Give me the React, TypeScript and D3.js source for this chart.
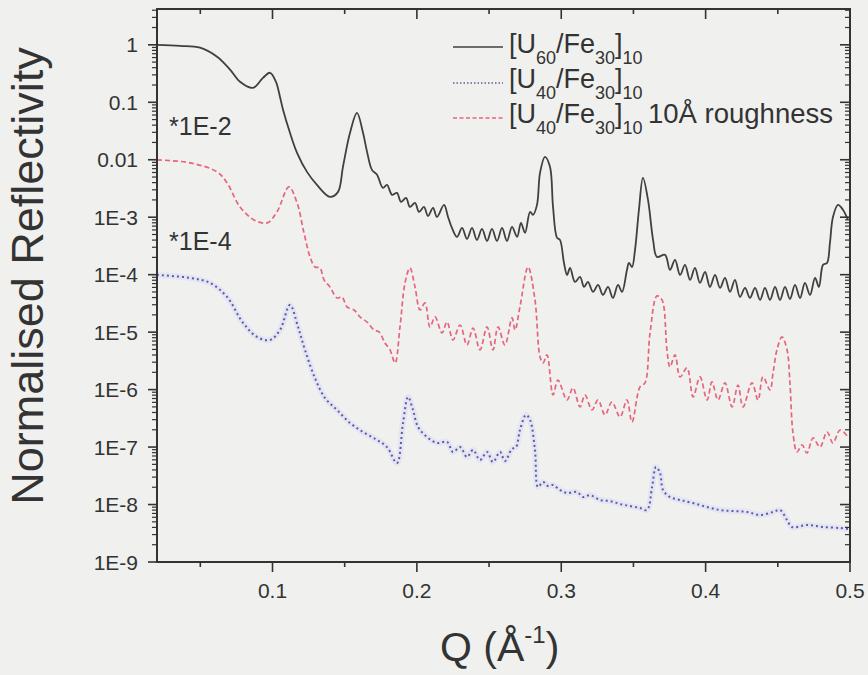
import React from "react";
import * as d3 from "d3";

const W = 868;
const H = 675;
const plot = { left: 157, right: 850, top: 9, bottom: 562 };

// [Q (1/Å), normalised reflectivity]
const u60Fe30: [number, number][] = [
  [0.02, 1.0], [0.0359, 0.96], [0.0498, 0.89], [0.0616, 0.62], [0.0706, 0.37],
  [0.0775, 0.227], [0.0865, 0.178], [0.0934, 0.266], [0.0983, 0.326], [0.1024, 0.227],
  [0.1052, 0.124], [0.1073, 0.074], [0.1121, 0.0294], [0.117, 0.0132], [0.1239, 0.00615],
  [0.1308, 0.00365], [0.1398, 0.00226], [0.1454, 0.00276], [0.1488, 0.00752], [0.1537, 0.0294],
  [0.1585, 0.0655], [0.1627, 0.0294], [0.1655, 0.0137], [0.1689, 0.00666], [0.1724, 0.00546],
  [0.1765, 0.00324], [0.1793, 0.00365], [0.1828, 0.00245], [0.1862, 0.00265], [0.189, 0.00185],
  [0.1925, 0.00217], [0.1952, 0.00151], [0.1987, 0.00178], [0.2015, 0.00124], [0.2049, 0.00151],
  [0.2077, 0.00105], [0.2112, 0.00145], [0.2139, 0.00101], [0.2188, 0.00164], [0.2216, 0.00101],
  [0.2243, 6.5e-4], [0.2278, 4.54e-4], [0.2313, 6.5e-4], [0.2347, 4.19e-4], [0.2382, 6.5e-4],
  [0.2416, 4.03e-4], [0.2451, 6.26e-4], [0.2486, 3.87e-4], [0.252, 6.26e-4], [0.2555, 3.87e-4],
  [0.259, 6.5e-4], [0.2624, 3.87e-4], [0.2659, 6.79e-4], [0.2694, 4.54e-4], [0.2721, 7.96e-4],
  [0.2749, 5.33e-4], [0.2784, 0.00124], [0.2804, 0.0011], [0.2832, 0.00164], [0.2853, 0.00591],
  [0.2887, 0.0112], [0.2922, 0.00752], [0.2943, 0.00151], [0.2971, 4.37e-4], [0.2991, 4.03e-4],
  [0.3019, 1.6e-4], [0.304, 9.9e-5], [0.3061, 1.31e-4], [0.3095, 7.48e-5], [0.313, 9.14e-5],
  [0.3158, 6.12e-5], [0.3185, 7.48e-5], [0.322, 5.01e-5], [0.3255, 6.63e-5], [0.3289, 4.44e-5],
  [0.3324, 6.12e-5], [0.3358, 3.94e-5], [0.3393, 6.63e-5], [0.3421, 5.01e-5], [0.3455, 1.21e-4],
  [0.3469, 1.6e-4], [0.349, 1.36e-4], [0.3511, 2.7e-4], [0.3538, 0.00134], [0.3566, 0.00484],
  [0.3601, 0.002], [0.3636, 4.03e-4], [0.3663, 2.04e-4], [0.3719, 2.21e-4], [0.3753, 1.21e-4],
  [0.3788, 1.81e-4], [0.3823, 9.9e-5], [0.3857, 1.48e-4], [0.3892, 8.11e-5], [0.3926, 1.31e-4],
  [0.3961, 7.19e-5], [0.3996, 1.12e-4], [0.403, 6.12e-5], [0.4065, 9.9e-5], [0.41, 5.88e-5],
  [0.4134, 8.78e-5], [0.4169, 5.01e-5], [0.4203, 8.11e-5], [0.4238, 4.1e-5], [0.4273, 5.88e-5],
  [0.4307, 3.94e-5], [0.4342, 5.88e-5], [0.4377, 3.64e-5], [0.4411, 5.88e-5], [0.4446, 3.64e-5],
  [0.4481, 6.12e-5], [0.4515, 3.64e-5], [0.455, 6.12e-5], [0.4584, 3.78e-5], [0.4619, 6.63e-5],
  [0.4654, 3.94e-5], [0.4688, 7.19e-5], [0.4723, 4.44e-5], [0.4758, 8.78e-5], [0.4785, 6.12e-5],
  [0.4813, 1.48e-4], [0.4841, 1.6e-4], [0.4861, 3.57e-4], [0.4882, 0.00101], [0.4917, 0.00164],
  [0.4952, 0.00134], [0.4986, 8.98e-4],
];

// multiplied by 1E-4 in the figure
const u40Fe30: [number, number][] = [
  [0.02, 9.9e-5], [0.0429, 8.78e-5], [0.0567, 7.19e-5], [0.0685, 4.1e-5], [0.0796, 1.45e-5],
  [0.0893, 8.25e-6], [0.0983, 7.31e-6], [0.1052, 1.09e-5], [0.1121, 2.97e-5], [0.1177, 1.23e-5],
  [0.1225, 4.9e-6], [0.1294, 1.59e-6], [0.1364, 7.15e-7], [0.1447, 4.42e-7], [0.1537, 2.63e-7],
  [0.1627, 1.83e-7], [0.1724, 1.33e-7], [0.1793, 1.0e-7], [0.1862, 5.28e-8], [0.1904, 2.63e-7],
  [0.1939, 7.44e-7], [0.1973, 4.42e-7], [0.2008, 2.24e-7], [0.207, 1.5e-7], [0.2139, 1.18e-7],
  [0.2209, 1.23e-7], [0.225, 8.21e-8], [0.2299, 1.0e-7], [0.2347, 6.72e-8], [0.2389, 8.9e-8],
  [0.2437, 5.96e-8], [0.2486, 8.21e-8], [0.2527, 5.5e-8], [0.2576, 8.21e-8], [0.261, 5.72e-8],
  [0.2659, 9.26e-8], [0.2687, 1.0e-7], [0.2714, 1.98e-7], [0.2756, 3.62e-7], [0.2784, 2.96e-7],
  [0.2818, 8.9e-8], [0.2839, 2.02e-8], [0.2874, 2.47e-8], [0.2908, 2.1e-8], [0.2943, 2.19e-8],
  [0.2991, 1.79e-8], [0.304, 1.59e-8], [0.3109, 1.65e-8], [0.3151, 1.35e-8], [0.3199, 1.46e-8],
  [0.3268, 1.2e-8], [0.3338, 1.15e-8], [0.3407, 1.02e-8], [0.3476, 9.42e-9], [0.3545, 8.7e-9],
  [0.3594, 8.03e-9], [0.3629, 2.02e-8], [0.3656, 4.5e-8], [0.3684, 3.54e-8], [0.3705, 1.79e-8],
  [0.3753, 1.35e-8], [0.3823, 1.2e-8], [0.3913, 1.06e-8], [0.401, 9.05e-9], [0.41, 8.03e-9],
  [0.419, 7.71e-9], [0.4287, 7.41e-9], [0.4377, 6.57e-9], [0.4467, 7.41e-9], [0.4515, 8.03e-9],
  [0.4564, 5.38e-9], [0.4598, 4.06e-9], [0.4702, 4.4e-9], [0.4813, 4.06e-9], [0.4931, 3.9e-9],
  [0.4986, 3.75e-9],
];

// multiplied by 1E-2 in the figure
const u40Fe30Rough: [number, number][] = [
  [0.02, 9.95e-3], [0.0429, 8.83e-3], [0.0616, 6.15e-3], [0.0685, 3.96e-3], [0.0775, 1.51e-3],
  [0.0872, 8.98e-4], [0.0962, 7.96e-4], [0.1031, 1.24e-3], [0.1114, 3.37e-3], [0.117, 1.78e-3],
  [0.1218, 5.33e-4], [0.126, 2.04e-4], [0.1294, 1.36e-4], [0.1329, 1.31e-4], [0.1357, 8.11e-5],
  [0.1398, 6.12e-5], [0.1447, 3.94e-5], [0.1481, 4.1e-5], [0.1516, 2.75e-5], [0.1565, 2.43e-5],
  [0.1606, 1.84e-5], [0.1655, 1.5e-5], [0.1703, 1.09e-5], [0.1738, 1.01e-5], [0.1779, 6.49e-6],
  [0.1814, 4.9e-6], [0.1849, 2.91e-6], [0.1883, 1.23e-5], [0.1918, 7.19e-5], [0.1952, 1.31e-4],
  [0.1987, 6.12e-5], [0.2022, 2.43e-5], [0.2056, 3.22e-5], [0.2091, 1.23e-5], [0.2126, 1.84e-5],
  [0.2174, 9.68e-6], [0.2209, 1.5e-5], [0.225, 7.31e-6], [0.2299, 1.33e-5], [0.2347, 5.99e-6],
  [0.2389, 1.18e-5], [0.2437, 4.9e-6], [0.2486, 1.23e-5], [0.2527, 4.9e-6], [0.2562, 1.23e-5],
  [0.261, 5.99e-6], [0.2659, 1.77e-5], [0.268, 1.09e-5], [0.2714, 2.75e-5], [0.277, 1.36e-4],
  [0.2818, 3.64e-5], [0.2853, 3.7e-6], [0.2874, 2.91e-6], [0.2901, 4.01e-6], [0.2943, 8.07e-7],
  [0.2977, 1.47e-6], [0.304, 6.6e-7], [0.3081, 1.07e-6], [0.313, 4.99e-7], [0.3164, 8.07e-7],
  [0.3213, 4.42e-7], [0.3255, 6.6e-7], [0.3303, 3.62e-7], [0.3351, 6.09e-7], [0.3407, 3.34e-7],
  [0.3455, 6.6e-7], [0.349, 2.73e-7], [0.3545, 1.11e-6], [0.358, 1.31e-6], [0.3615, 9.68e-6],
  [0.3663, 4.27e-5], [0.3698, 3.64e-5], [0.3732, 4.9e-6], [0.3753, 2.48e-6], [0.3788, 4.01e-6],
  [0.3823, 1.66e-6], [0.3871, 2.38e-6], [0.3913, 7.44e-7], [0.3961, 1.66e-6], [0.401, 6.6e-7],
  [0.4044, 1.36e-6], [0.4086, 6.6e-7], [0.4134, 1.31e-6], [0.4183, 4.99e-7], [0.4224, 1.2e-6],
  [0.4259, 4.99e-7], [0.4321, 1.31e-6], [0.4363, 6.6e-7], [0.4397, 1.66e-6], [0.4446, 9.86e-7],
  [0.4467, 1.95e-6], [0.4494, 4.9e-6], [0.4529, 8.25e-6], [0.4564, 4.9e-6], [0.4584, 1.31e-6],
  [0.4605, 1.76e-7], [0.4633, 8.21e-8], [0.4668, 1.09e-7], [0.4702, 7.89e-8], [0.4744, 1.44e-7],
  [0.4792, 1.0e-7], [0.4841, 1.83e-7], [0.4882, 1.18e-7], [0.4931, 1.98e-7], [0.4986, 1.5e-7],
];

const xTicks = [0.1, 0.2, 0.3, 0.4, 0.5];
const xMinorTicks = [0.05, 0.15, 0.25, 0.35, 0.45];
const yTicks = [1, 0.1, 0.01, 1e-3, 1e-4, 1e-5, 1e-6, 1e-7, 1e-8, 1e-9];
const yTickLabels = ["1", "0.1", "0.01", "1E-3", "1E-4", "1E-5", "1E-6", "1E-7", "1E-8", "1E-9"];

const x = d3.scaleLinear().domain([0.02, 0.5]).range([plot.left, plot.right]);
const y = d3.scaleLog().domain([1e-9, 4.2]).range([plot.bottom, plot.top]);

const yMinorTicks: number[] = [];
yTicks.forEach((d) => {
  for (let k = 2; k < 10; k++) if (d * k < 4.2) yMinorTicks.push(d * k);
});

const line = d3
  .line<[number, number]>()
  .x((d) => x(d[0]))
  .y((d) => y(d[1]))
  .curve(d3.curveCatmullRom.alpha(0.5));

const ink = "#333";
const font = "Arial, 'Liberation Sans', Helvetica, sans-serif";

const Formula = ({ a, x0, y0 }: { a: string; x0: number; y0: number }) => (
  <text x={x0} y={y0} fontSize={27} fill={ink} fontFamily={font}>
    <tspan>[U</tspan>
    <tspan fontSize={18} dy={11}>{a}</tspan>
    <tspan dy={-11}>/Fe</tspan>
    <tspan fontSize={18} dy={11}>30</tspan>
    <tspan dy={-11}>]</tspan>
    <tspan fontSize={18} dy={11}>10</tspan>
  </text>
);

export default function App() {
  return (
    <svg
      width={W}
      height={H}
      style={{ position: "absolute", left: 0, top: 0, display: "block" }}
      fontFamily={font}
    >
      <rect width={W} height={H} fill="#f0f0ee" />
      <defs>
        <clipPath id="plotArea">
          <rect x={plot.left} y={plot.top} width={plot.right - plot.left} height={plot.bottom - plot.top} />
        </clipPath>
      </defs>

      {/* data */}
      <g clipPath="url(#plotArea)" fill="none">
        <path d={line(u40Fe30) || ""} stroke="#e4e4f4" strokeWidth={6} />
        <path d={line(u40Fe30) || ""} stroke="#5c5f9e" strokeWidth={2} strokeDasharray="2 3" />
        <path d={line(u40Fe30Rough) || ""} stroke="#e5667c" strokeWidth={1.7} strokeDasharray="5 3" />
        <path d={line(u60Fe30) || ""} stroke="#404040" strokeWidth={1.8} />
      </g>

      {/* frame */}
      <rect
        x={plot.left}
        y={plot.top}
        width={plot.right - plot.left}
        height={plot.bottom - plot.top}
        fill="none"
        stroke={ink}
        strokeWidth={2}
      />

      {/* ticks */}
      <g stroke={ink} strokeWidth={1.6}>
        {yTicks.map((d) => (
          <g key={d}>
            <line x1={plot.left - 9} x2={plot.left} y1={y(d)} y2={y(d)} />
            <line x1={plot.right - 10} x2={plot.right} y1={y(d)} y2={y(d)} />
          </g>
        ))}
        {yMinorTicks.map((d) => (
          <g key={d}>
            <line x1={plot.left - 5} x2={plot.left} y1={y(d)} y2={y(d)} strokeWidth={1.2} />
            <line x1={plot.right - 5} x2={plot.right} y1={y(d)} y2={y(d)} strokeWidth={1.2} />
          </g>
        ))}
        {xTicks.map((d) => (
          <g key={d}>
            <line x1={x(d)} x2={x(d)} y1={plot.bottom} y2={plot.bottom + 10} />
            <line x1={x(d)} x2={x(d)} y1={plot.top} y2={plot.top + 10} />
          </g>
        ))}
        {xMinorTicks.map((d) => (
          <g key={d}>
            <line x1={x(d)} x2={x(d)} y1={plot.bottom} y2={plot.bottom + 5} />
            <line x1={x(d)} x2={x(d)} y1={plot.top} y2={plot.top + 5} />
          </g>
        ))}
      </g>

      {/* tick labels */}
      <g fill={ink} fontSize={21}>
        {yTicks.map((d, i) => (
          <text key={d} x={plot.left - 19} y={y(d) + 7.5} textAnchor="end">
            {yTickLabels[i]}
          </text>
        ))}
        {xTicks.map((d) => (
          <text key={d} x={x(d)} y={598} textAnchor="middle">
            {d}
          </text>
        ))}
      </g>

      {/* axis titles */}
      <text
        transform="translate(43, 276) rotate(-90)"
        textAnchor="middle"
        fontSize={45}
        fill={ink}
      >
        Normalised Reflectivity
      </text>
      <text x={440} y={661} fontSize={41} fill={ink}>
        <tspan>Q (Å</tspan>
        <tspan fontSize={24} dy={-18}>-1</tspan>
        <tspan dy={18}>)</tspan>
      </text>

      {/* offsets */}
      <text x={169} y={135} fontSize={25} fill={ink}>*1E-2</text>
      <text x={169} y={250} fontSize={25} fill={ink}>*1E-4</text>

      {/* legend */}
      <g fill="none">
        <line x1={453} x2={503} y1={47} y2={47} stroke="#404040" strokeWidth={1.6} />
        <line x1={453} x2={503} y1={83} y2={83} stroke="#5c5f9e" strokeWidth={1.6} strokeDasharray="1.5 2" />
        <line x1={453} x2={503} y1={118} y2={118} stroke="#e5667c" strokeWidth={1.5} strokeDasharray="4 2.5" />
      </g>
      <Formula a="60" x0={509} y0={53} />
      <Formula a="40" x0={509} y0={88} />
      <Formula a="40" x0={509} y0={123} />
      <text x={648} y={123} fontSize={27.5} fill={ink}>10Å roughness</text>
    </svg>
  );
}
